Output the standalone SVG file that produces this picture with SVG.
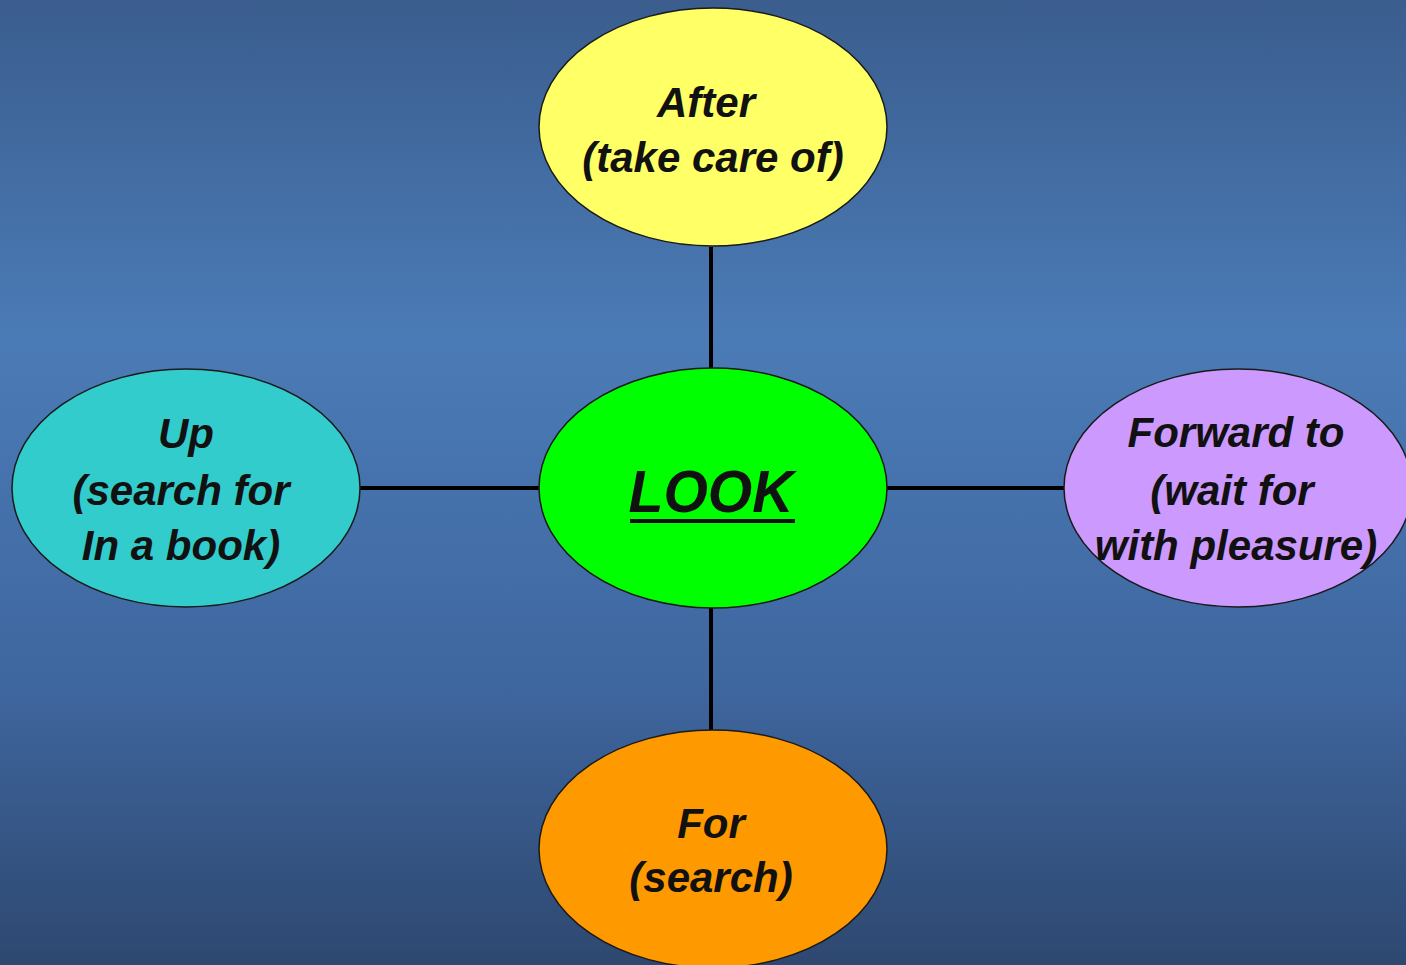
<svg xmlns="http://www.w3.org/2000/svg" width="1406" height="965" viewBox="0 0 1406 965">
<defs>
<linearGradient id="bg" x1="0" y1="0" x2="0" y2="1">
<stop offset="0" stop-color="#3a5d8e"/>
<stop offset="0.35" stop-color="#4b7bb6"/>
<stop offset="0.7" stop-color="#3f67a0"/>
<stop offset="1" stop-color="#2e4870"/>
</linearGradient>
<style>
.node{stroke:#1a1a1a;stroke-width:1.5}
.t{font-family:"Liberation Sans",Arial,sans-serif;font-weight:bold;font-style:italic;font-size:42px;fill:#111;text-anchor:middle}
.c{stroke:#000;stroke-width:4;fill:none}
</style>
</defs>
<rect width="1406" height="965" fill="url(#bg)"/>
<g id="connectors">
<line class="c" x1="711" y1="247" x2="711" y2="368"/>
<line class="c" x1="711" y1="607" x2="711" y2="731"/>
<line class="c" x1="360" y1="488" x2="539" y2="488"/>
<line class="c" x1="887" y1="488" x2="1065" y2="488"/>
</g>
<g id="after">
<ellipse class="node" cx="713" cy="127" rx="174" ry="119" fill="#ffff66"/>
<text class="t" x="706" y="117">After</text>
<text class="t" x="713" y="172">(take care of)</text>
</g>
<g id="up">
<ellipse class="node" cx="186" cy="488" rx="174" ry="119" fill="#33cccc"/>
<text class="t" x="186" y="448">Up</text>
<text class="t" x="181" y="505">(search for</text>
<text class="t" x="181" y="560">In a book)</text>
</g>
<g id="look">
<ellipse class="node" cx="713" cy="488" rx="174" ry="120" fill="#00ff00"/>
<text class="t" x="711" y="512" style="font-size:60px" textLength="165" lengthAdjust="spacingAndGlyphs">LOOK</text>
<rect x="630" y="519" width="165" height="4" fill="#111"/>
</g>
<g id="forward">
<ellipse class="node" cx="1238" cy="488" rx="174" ry="119" fill="#cc99ff"/>
<text class="t" x="1236" y="447">Forward to</text>
<text class="t" x="1232" y="505">(wait for</text>
<text class="t" x="1236" y="560">with pleasure)</text>
</g>
<g id="for">
<ellipse class="node" cx="713" cy="849" rx="174" ry="119" fill="#ff9900"/>
<text class="t" x="711" y="838">For</text>
<text class="t" x="711" y="892">(search)</text>
</g>
</svg>
